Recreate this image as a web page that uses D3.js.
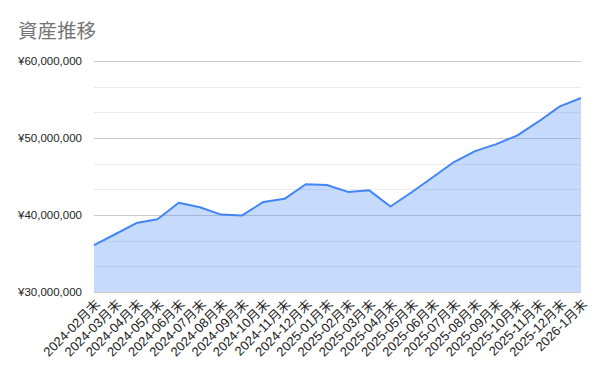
<!DOCTYPE html>
<meta charset="utf-8">
<script src="https://d3js.org/d3.v7.min.js"></script>
<style>
body { margin: 0; background: #fff; }
text { font-family: "Liberation Sans", Arial, "Noto Sans CJK JP", sans-serif; }
.title { fill: #757575; font-size: 19.5px; font-family: Roboto, "Noto Sans CJK JP", sans-serif; }
.ylab { fill: #222; font-size: 11.5px; }
.xlab { fill: #222; font-size: 13px; }
</style>
<body>
<script>

// data (yen)
var months = [
  "2024-02月末", "2024-03月末", "2024-04月末", "2024-05月末", "2024-06月末", "2024-07月末",
  "2024-08月末", "2024-09月末", "2024-10月末", "2024-11月末", "2024-12月末", "2025-01月末",
  "2025-02月末", "2025-03月末", "2025-04月末", "2025-05月末", "2025-06月末", "2025-07月末",
  "2025-08月末", "2025-09月末", "2025-10月末", "2025-11月末", "2025-12月末", "2026-1月末"
];
var assets = [
  36100000, 37500000, 38950000, 39450000, 41600000, 41000000,
  40050000, 39950000, 41700000, 42100000, 44000000, 43900000,
  43000000, 43200000, 41100000, 42950000, 44900000, 46880000,
  48300000, 49200000, 50350000, 52150000, 54100000, 55200000
];
var yTicks = [30000000, 40000000, 50000000, 60000000];

var width = 600, height = 371;
var margin = {top: 61, right: 19, bottom: 79, left: 94};

var svg = d3.select("body").append("svg")
    .attr("width", width)
    .attr("height", height);

var x = d3.scalePoint()
    .domain(months)
    .range([margin.left, width - margin.right]);

var y = d3.scaleLinear()
    .domain([30000000, 60000000])
    .range([height - margin.bottom, margin.top]);

// minor gridlines (3 per major step)
var minor = d3.range(30000000, 60000001, 10000000 / 3);
svg.append("g")
  .selectAll("line")
  .data(minor)
  .enter().append("line")
    .attr("x1", margin.left)
    .attr("x2", width - margin.right)
    .attr("y1", function(d) { return Math.round(y(d)) + 0.5; })
    .attr("y2", function(d) { return Math.round(y(d)) + 0.5; })
    .style("stroke", "#ebebeb")
    .style("stroke-width", 1);

// major gridlines
svg.append("g")
  .selectAll("line")
  .data(yTicks)
  .enter().append("line")
    .attr("x1", margin.left)
    .attr("x2", width - margin.right)
    .attr("y1", function(d) { return Math.round(y(d)) + 0.5; })
    .attr("y2", function(d) { return Math.round(y(d)) + 0.5; })
    .style("stroke", "#cccccc")
    .style("stroke-width", 1);

// area + line
var area = d3.area()
    .x(function(d, i) { return x(months[i]); })
    .y0(y(30000000))
    .y1(function(d) { return y(d); });

var line = d3.line()
    .x(function(d, i) { return x(months[i]); })
    .y(function(d) { return y(d); });

svg.append("path")
    .datum(assets)
    .attr("d", area)
    .style("fill", "#4285f4")
    .style("fill-opacity", 0.3);

svg.append("path")
    .datum(assets)
    .attr("d", line)
    .style("fill", "none")
    .style("stroke", "#4285f4")
    .style("stroke-width", 2)
    .style("stroke-linejoin", "round");

// y labels
var fmt = function(d) { return "¥" + d3.format(",")(d); };
svg.append("g")
  .selectAll("text")
  .data(yTicks)
  .enter().append("text")
    .attr("class", "ylab")
    .attr("x", margin.left - 12)
    .attr("y", function(d) { return y(d) + 4; })
    .attr("text-anchor", "end")
    .text(fmt);

// x labels, rotated
svg.append("g")
  .selectAll("text")
  .data(months)
  .enter().append("text")
    .attr("class", "xlab")
    .attr("text-anchor", "end")
    .attr("transform", function(d) {
        return "translate(" + (x(d) + 7) + "," + (height - margin.bottom + 13) + ") rotate(-45)";
    })
    .text(function(d) { return d; });

// title
svg.append("text")
    .attr("class", "title")
    .attr("x", 18)
    .attr("y", 38)
    .text("資産推移");

</script>
</body>
